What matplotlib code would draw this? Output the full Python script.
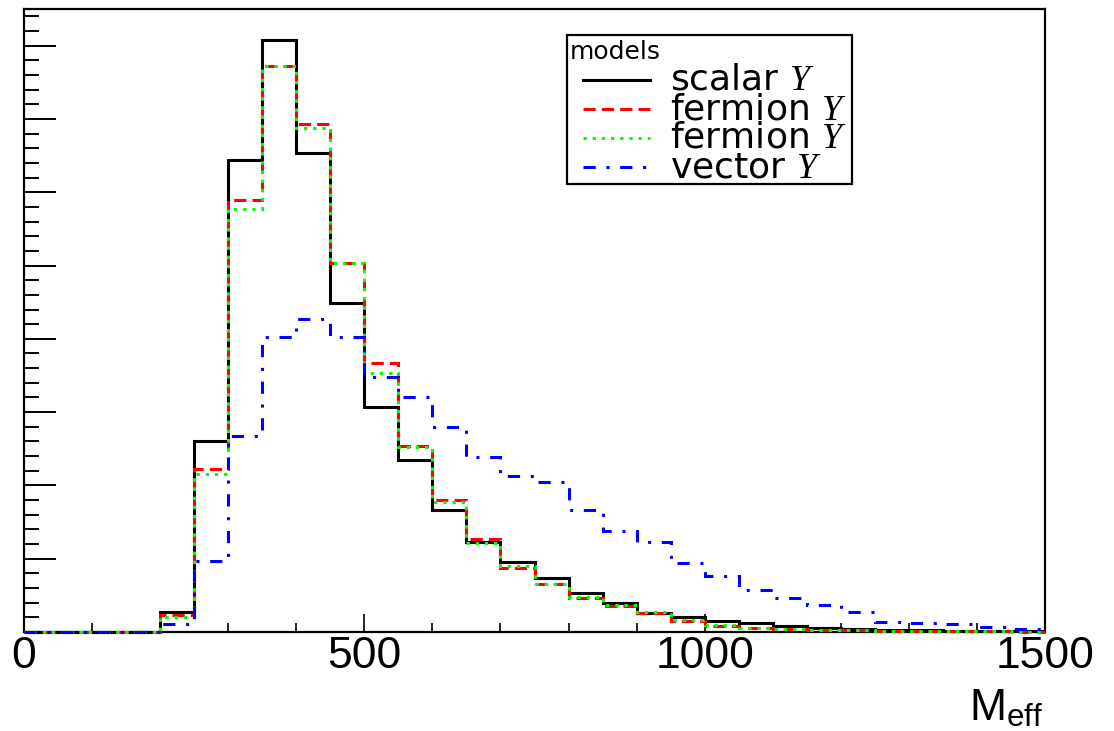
import matplotlib
matplotlib.use("Agg")
import matplotlib.pyplot as plt
import numpy as np
from matplotlib.lines import Line2D
from matplotlib.patches import Rectangle
from matplotlib.ticker import MultipleLocator

plt.rcParams["font.family"] = "Liberation Sans"
plt.rcParams["mathtext.fontset"] = "custom"
plt.rcParams["mathtext.rm"] = "Liberation Sans"
plt.rcParams["mathtext.it"] = "Liberation Serif:italic"

# ---------------------------------------------------------------------------
# Data: M_eff histograms, 50 GeV bins from 0 to 1500 (arbitrary units)
# ---------------------------------------------------------------------------
BIN_EDGES = np.arange(0, 1501, 50)

scalar_Y = [0, 0, 0, 0, 0.27, 2.61, 6.44, 8.08, 6.53, 4.49, 3.07, 2.34, 1.66, 1.23,
            0.95, 0.73, 0.53, 0.40, 0.26, 0.20, 0.155, 0.12, 0.08, 0.055, 0.04,
            0.03, 0.025, 0.02, 0.015, 0.01]
fermion_Y1 = [0, 0, 0, 0, 0.23, 2.22, 5.89, 7.72, 6.93, 5.04, 3.67, 2.54, 1.80, 1.27,
              0.88, 0.66, 0.47, 0.35, 0.26, 0.15, 0.08, 0.055, 0.04, 0.03, 0.025,
              0.02, 0.015, 0.01, 0.01, 0.005]
fermion_Y2 = [0, 0, 0, 0, 0.20, 2.15, 5.77, 7.72, 6.88, 5.04, 3.53, 2.52, 1.77, 1.21,
              0.90, 0.66, 0.48, 0.37, 0.27, 0.16, 0.10, 0.06, 0.045, 0.03, 0.025,
              0.02, 0.015, 0.01, 0.01, 0.005]
vector_Y = [0, 0, 0, 0, 0.11, 0.97, 2.67, 4.03, 4.27, 4.02, 3.48, 3.20, 2.80, 2.39,
            2.13, 2.05, 1.67, 1.38, 1.23, 0.94, 0.77, 0.57, 0.46, 0.37, 0.27, 0.14,
            0.12, 0.11, 0.07, 0.04]

labels = ["scalar $Y$", "fermion $Y$", "fermion $Y$", "vector $Y$"]

# style per series: colour, dash pattern (in linewidth units)
STYLES = [
    ("black", "-"),
    ("#ff0000", (0, (4, 2))),
    ("#00ff00", (0, (1.1, 1.9))),
    ("#0000ff", (0, (4, 3.5, 1, 3.5))),
]
LW = 2.2

fig = plt.figure(figsize=(11.14, 7.31), dpi=100)
ax = fig.add_axes([24 / 1114, 99 / 731, 1021 / 1114, 623 / 731])

for vals, (col, ls) in zip([scalar_Y, fermion_Y1, fermion_Y2, vector_Y], STYLES):
    ax.stairs(vals, BIN_EDGES, color=col, linestyle=ls, linewidth=LW,
              baseline=None, clip_on=False, zorder=3)

ax.set_xlim(0, 1500)
ax.set_ylim(0, 8.5)

for s in ax.spines.values():
    s.set_linewidth(1.6)

ax.xaxis.set_major_locator(MultipleLocator(500))
ax.xaxis.set_minor_locator(MultipleLocator(100))
ax.yaxis.set_major_locator(MultipleLocator(1))
ax.yaxis.set_minor_locator(MultipleLocator(0.2))

ax.tick_params(axis="x", which="major", direction="in", length=13, width=1.2,
               labelsize=32, pad=3, top=False)
ax.tick_params(axis="x", which="minor", direction="in", length=6.5, width=1.2, top=False)
ax.tick_params(axis="y", which="major", direction="in", length=23, width=1.4,
               labelleft=False, right=False)
ax.tick_params(axis="y", which="minor", direction="in", length=11, width=1.4, right=False)

# x-axis title at bottom right
fig.text(1043 / 1114, 11 / 731, r"$\mathrm{M}_{\mathrm{eff}}$", ha="right",
         va="baseline", fontsize=32)

# ---------------------------------------------------------------------------
# Legend box (ROOT style)
# ---------------------------------------------------------------------------
def ax_xy(px, py):
    return (px - 24) / 1021, (632 - py) / 623

bx0, by0 = ax_xy(567, 184)
bx1, by1 = ax_xy(852, 35)
ax.add_patch(Rectangle((bx0, by0), bx1 - bx0, by1 - by0, transform=ax.transAxes,
                       facecolor="white", edgecolor="black", linewidth=1.6,
                       zorder=5, clip_on=False))
tx, ty = ax_xy(570, 52)
ax.text(tx, ty, "models", transform=ax.transAxes, family="DejaVu Sans",
        fontsize=18, ha="left", va="center", zorder=6)

row_y = [80, 109, 138, 167]
for (col, ls), lab, ry in zip(STYLES, labels, row_y):
    lx0, ly = ax_xy(583, ry)
    lx1, _ = ax_xy(650, ry)
    ax.add_line(Line2D([lx0, lx1], [ly, ly], transform=ax.transAxes, color=col,
                       linestyle=ls, linewidth=LW, zorder=6, clip_on=False))
    txx, tyy = ax_xy(670, ry + 10)
    ax.text(txx, tyy, lab, transform=ax.transAxes, family="DejaVu Sans",
            fontsize=26, ha="left", va="baseline", zorder=6)

fig.savefig("out.png", dpi=100, facecolor="white")
